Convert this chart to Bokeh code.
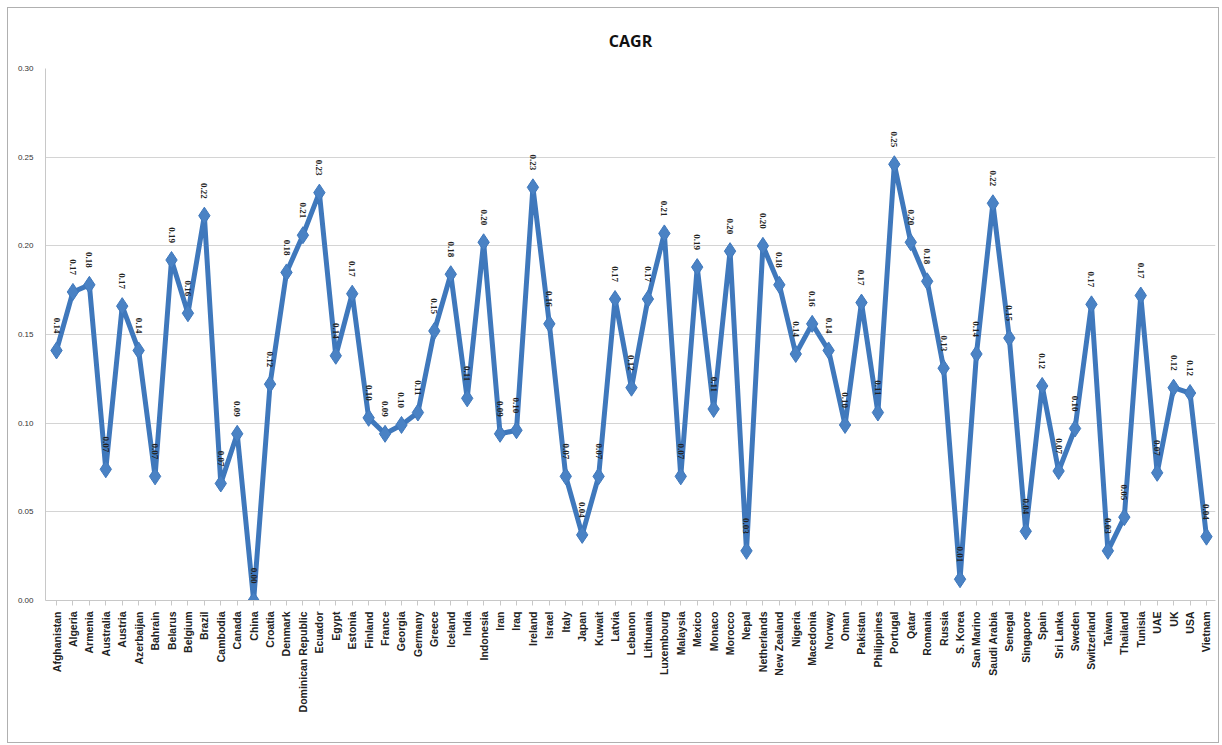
import math
from bokeh.plotting import figure
from bokeh.models import ColumnDataSource, LabelSet, FixedTicker, Range1d
from bokeh.embed import file_html
from bokeh.resources import INLINE

countries = ["Afghanistan", "Algeria", "Armenia", "Australia", "Austria", "Azerbaijan",
             "Bahrain", "Belarus", "Belgium", "Brazil", "Cambodia", "Canada", "China",
             "Croatia", "Denmark", "Dominican Republic", "Ecuador", "Egypt", "Estonia",
             "Finland", "France", "Georgia", "Germany", "Greece", "Iceland", "India",
             "Indonesia", "Iran", "Iraq", "Ireland", "Israel", "Italy", "Japan", "Kuwait",
             "Latvia", "Lebanon", "Lithuania", "Luxembourg", "Malaysia", "Mexico", "Monaco",
             "Morocco", "Nepal", "Netherlands", "New Zealand", "Nigeria", "Macedonia",
             "Norway", "Oman", "Pakistan", "Philippines", "Portugal", "Qatar", "Romania",
             "Russia", "S. Korea", "San Marino", "Saudi Arabia", "Senegal", "Singapore",
             "Spain", "Sri Lanka", "Sweden", "Switzerland", "Taiwan", "Thailand", "Tunisia",
             "UAE", "UK", "USA", "Vietnam"]

cagr = [0.141, 0.174, 0.178, 0.074, 0.166, 0.141,
        0.070, 0.192, 0.162, 0.217, 0.066, 0.094, 0.000,
        0.122, 0.185, 0.206, 0.230, 0.138, 0.173,
        0.103, 0.094, 0.099, 0.106, 0.152, 0.184, 0.114,
        0.202, 0.094, 0.096, 0.233, 0.156, 0.070, 0.037, 0.070,
        0.170, 0.120, 0.170, 0.207, 0.070, 0.188, 0.108,
        0.197, 0.028, 0.200, 0.178, 0.139, 0.156,
        0.141, 0.099, 0.168, 0.106, 0.246, 0.202, 0.180,
        0.131, 0.012, 0.139, 0.224, 0.148, 0.039,
        0.121, 0.073, 0.097, 0.167, 0.028, 0.047, 0.172,
        0.072, 0.120, 0.117, 0.036]

y_ticks = [0.0, 0.05, 0.10, 0.15, 0.20, 0.25, 0.30]

xs = list(range(len(countries)))
labels = ["%.2f" % v for v in cagr]
src = ColumnDataSource(dict(x=xs, y=cagr, lab=labels))

p = figure(width=1212, height=736, output_backend="svg", toolbar_location=None,
           x_range=Range1d(-0.67, len(countries) - 1 + 0.55), y_range=Range1d(0, 0.30),
           min_border_left=37, min_border_right=5, min_border_top=60, min_border_bottom=144)
p.styles = {"border": "1px solid #b0b0b0", "margin-left": "7px", "margin-top": "7px"}
p.outline_line_color = None
p.background_fill_color = "white"

p.title.text = "CAGR"
p.title.align = "center"
p.title.text_font = "Open Sans"
p.title.text_font_size = "16px"
p.title.text_font_style = "bold"
p.title.text_color = "#111111"
p.title.offset = 0
p.title.standoff = 34

p.line("x", "y", source=src, line_color="#3f78bc", line_width=5)
p.scatter("x", "y", source=src, marker="diamond", size=17, fill_color="#4a82c4",
          line_color="#3f78bc", line_width=1)

lbl = LabelSet(x="x", y="y", text="lab", source=src, angle=-math.pi / 2,
               text_align="right", text_baseline="middle", y_offset=17,
               text_font="Liberation Sans", text_font_size="9px", text_font_style="bold",
               text_color="#222222")
p.add_layout(lbl)

p.xaxis.ticker = FixedTicker(ticks=xs)
p.xaxis.major_label_overrides = {i: c for i, c in enumerate(countries)}
p.xaxis.major_label_orientation = math.pi / 2
p.xaxis.major_label_text_font = "Liberation Sans"
p.xaxis.major_label_text_font_size = "10.5px"
p.xaxis.major_label_text_font_style = "bold"
p.xaxis.major_label_text_color = "#222222"
p.xaxis.axis_line_color = "#c8c8c8"
p.xaxis.major_tick_line_color = "#c8c8c8"
p.xaxis.major_tick_out = 5
p.xaxis.major_tick_in = 0
p.xaxis.minor_tick_line_color = None
p.xaxis.major_label_standoff = 6

p.yaxis.ticker = FixedTicker(ticks=y_ticks)
p.yaxis.major_label_overrides = {t: "%.2f" % t for t in y_ticks}
p.yaxis.major_label_text_font = "Liberation Sans"
p.yaxis.major_label_text_font_size = "8px"
p.yaxis.major_label_text_color = "#333333"
p.yaxis.axis_line_color = "#c8c8c8"
p.yaxis.major_tick_line_color = None
p.yaxis.minor_tick_line_color = None
p.yaxis.major_label_standoff = 6

p.xgrid.grid_line_color = None
p.ygrid.ticker = FixedTicker(ticks=y_ticks)
p.ygrid.grid_line_color = "#d4d4d4"
p.ygrid.grid_line_width = 1

open("out.html", "w").write(file_html(p, INLINE))
